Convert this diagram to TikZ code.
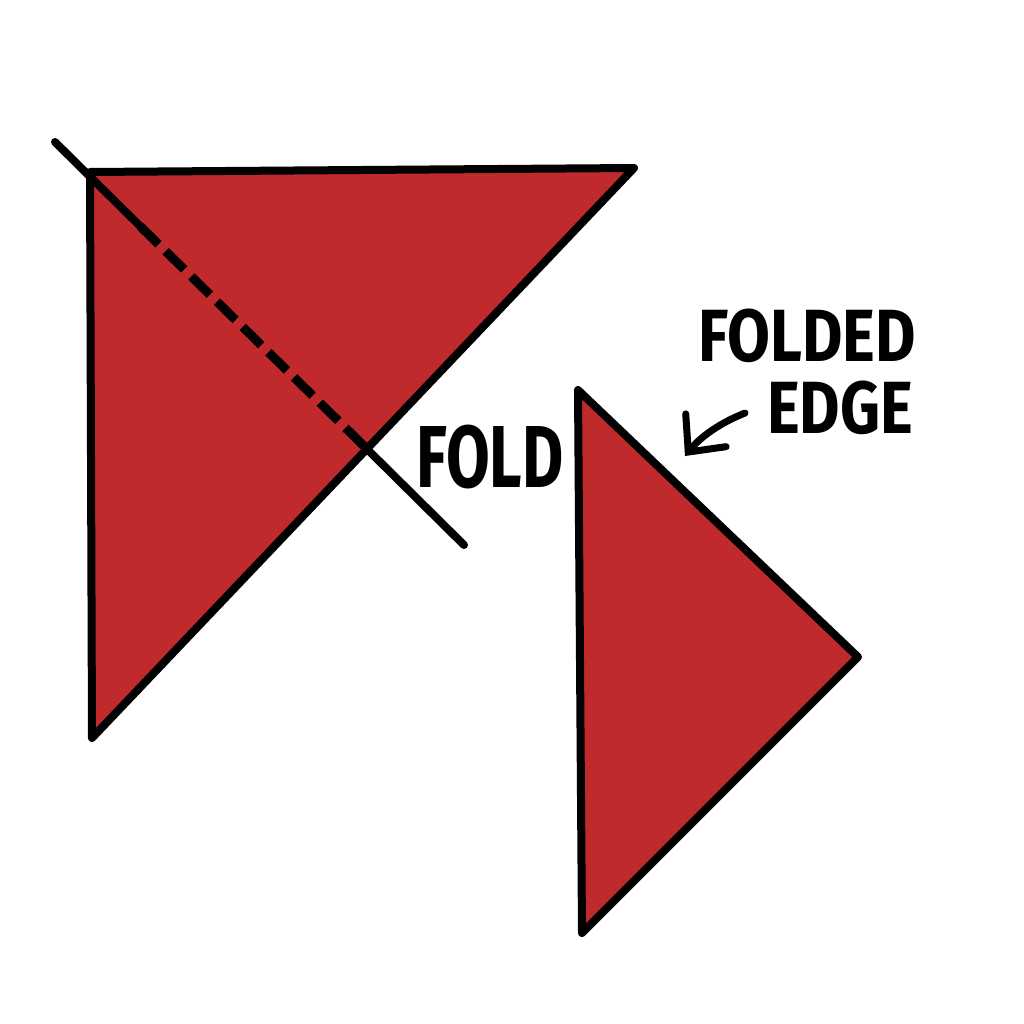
\documentclass[tikz,border=0pt]{standalone}
\usepackage{fontspec}
\setmainfont{Fira Sans}
\usetikzlibrary{arrows.meta}
\definecolor{paper}{RGB}{192,42,45}
\begin{document}
\begin{tikzpicture}[x=1pt,y=-1pt,
  edge/.style={line width=8pt,line join=round,line cap=round},
  lbl/.style={font=\bfseries,inner sep=0pt}]
\useasboundingbox (0,0) rectangle (1024,1024);
% big triangle
\coordinate (A) at (90,172);
\coordinate (B) at (634,168);
\coordinate (C) at (92,738);
\filldraw[fill=paper,edge] (A) -- (B) -- (C) -- cycle;
% fold line
\coordinate (F0) at (55,142);
\coordinate (F1) at (140,226);
\coordinate (F2) at (370,452);
\coordinate (F3) at (464,545);
\draw[edge] (F0) -- (F1);
\draw[edge,line width=9pt,line cap=butt,dash pattern=on 26pt off 10pt] (F1) -- (F2);
\draw[edge] (F2) -- (F3);
% small triangle
\coordinate (P) at (578,390);
\coordinate (Q) at (858,657);
\coordinate (R) at (582,933);
\filldraw[fill=paper,edge] (P) -- (Q) -- (R) -- cycle;
% labels
\node[lbl,font=\bfseries\fontsize{88}{88}\selectfont,xscale=0.72] (fold) at (490,457) {FOLD};
\node[lbl,font=\bfseries\fontsize{74}{74}\selectfont,xscale=0.84] (folded) at (807,336) {FOLDED};
\node[lbl,font=\bfseries\fontsize{74}{74}\selectfont,xscale=0.84] (edgelbl) at (840,408) {EDGE};
% arrow
\coordinate (a0) at (745,413);
\coordinate (a1) at (685,456);
\draw[line width=7pt,line cap=round,-{Straight Barb[length=28pt,width=52pt,line cap=round]}] (a0) .. controls (715,425) and (698,440) .. (a1);
\end{tikzpicture}
\end{document}
